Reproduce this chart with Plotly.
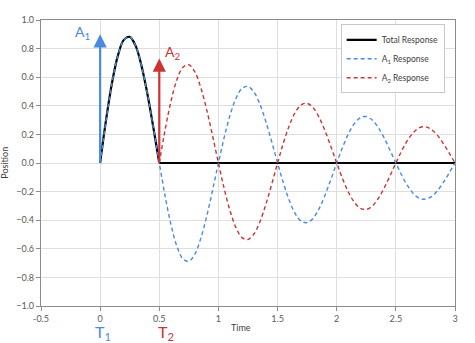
import plotly.graph_objects as go

# Time samples (step 0.05)
time = [round(0.05 * i, 2) for i in range(61)]

# A1 response
a1_resp = [0.000, 0.301, 0.559, 0.751, 0.861, 0.882, 0.819, 0.679, 0.481, 0.247,
           0.000, -0.235, -0.435, -0.585, -0.670, -0.687, -0.638, -0.529, -0.375, -0.192,
           0.000, 0.183, 0.339, 0.455, 0.522, 0.535, 0.496, 0.412, 0.292, 0.150,
           0.000, -0.142, -0.264, -0.355, -0.407, -0.417, -0.387, -0.321, -0.227, -0.117,
           0.000, 0.111, 0.206, 0.276, 0.317, 0.325, 0.301, 0.250, 0.177, 0.091,
           0.000, -0.086, -0.160, -0.215, -0.247, -0.253, -0.235, -0.195, -0.138, -0.071,
           0.000]

# A2 response (starts at t = 0.5)
time2 = time[10:]
a2_resp = [0.000, 0.235, 0.435, 0.585, 0.670, 0.687, 0.638, 0.529, 0.375, 0.192,
           0.000, -0.183, -0.339, -0.455, -0.522, -0.535, -0.496, -0.412, -0.292, -0.150,
           0.000, 0.142, 0.264, 0.355, 0.407, 0.417, 0.387, 0.321, 0.227, 0.117,
           0.000, -0.111, -0.206, -0.276, -0.317, -0.325, -0.301, -0.250, -0.177, -0.091,
           0.000, 0.086, 0.160, 0.215, 0.247, 0.253, 0.235, 0.195, 0.138, 0.071,
           0.000]

# Total response: A1 until t = 0.5, then flat zero
total_t1 = time[:11]
total_y1 = a1_resp[:11]
total_t2 = [0.5, 3.0]
total_y2 = [0.0, 0.0]

# Impulses
impulse_t = [0.0, 0.5]
impulse_a = [0.90, 0.73]
impulse_names = ["A<sub>1</sub>", "A<sub>2</sub>"]
time_names = ["T<sub>1</sub>", "T<sub>2</sub>"]

BLUE = "#4a8ae0"
RED = "#cc3333"
FONT = "Lato"

fig = go.Figure()
fig.add_trace(go.Scatter(x=total_t1, y=total_y1, mode="lines", name="Total Response",
                         legendgroup="tot",
                         line=dict(color="black", width=2.2, shape="spline")))
fig.add_trace(go.Scatter(x=total_t2, y=total_y2, mode="lines", name="Total Response",
                         legendgroup="tot", showlegend=False,
                         line=dict(color="black", width=2.2)))
fig.add_trace(go.Scatter(x=time, y=a1_resp, mode="lines", name="A<sub>1</sub> Response",
                         line=dict(color=BLUE, width=1.4, dash="4px,3px", shape="spline")))
fig.add_trace(go.Scatter(x=time2, y=a2_resp, mode="lines", name="A<sub>2</sub> Response",
                         line=dict(color=RED, width=1.4, dash="4px,3px", shape="spline")))

anns = []
cols = [BLUE, RED]
label_off = [(-0.15, 0.01), (0.11, 0.04)]
t_off = [0.02, 0.055]
for i in range(2):
    anns.append(dict(x=impulse_t[i], y=impulse_a[i], ax=impulse_t[i], ay=0,
                     xref="x", yref="y", axref="x", ayref="y", text="",
                     showarrow=True, arrowhead=2, arrowsize=1.2, arrowwidth=2.2,
                     arrowcolor=cols[i]))
    anns.append(dict(x=impulse_t[i] + label_off[i][0], y=impulse_a[i] + label_off[i][1],
                     xref="x", yref="y", text=impulse_names[i], showarrow=False,
                     font=dict(size=14, color=cols[i], family=FONT)))
    anns.append(dict(x=impulse_t[i] + t_off[i], y=-0.092, xref="x", yref="paper",
                     text=time_names[i], showarrow=False, yanchor="middle", borderpad=0,
                     font=dict(size=16, color=cols[i], family=FONT)))
anns.append(dict(x=1.19, y=-0.102, xref="x", yref="paper", text="Time", showarrow=False,
                 font=dict(size=9, color="#404040", family=FONT)))
anns.append(dict(x=-0.108, y=0.5, xref="paper", yref="paper", text="Position",
                 showarrow=False, textangle=-90,
                 font=dict(size=9, color="#404040", family=FONT)))

fig.update_layout(
    width=475, height=343,
    margin=dict(l=41, r=20, t=20, b=37),
    paper_bgcolor="white", plot_bgcolor="white",
    font=dict(family=FONT, size=9, color="#595959"),
    showlegend=True,
    legend=dict(x=0.975, y=0.985, xanchor="right", yanchor="top",
                bgcolor="white", bordercolor="#c8c8c8", borderwidth=1,
                font=dict(size=8.5, color="#404040", family=FONT),
                tracegroupgap=0, itemwidth=30),
    annotations=anns,
    xaxis=dict(range=[-0.5, 3], tickvals=[-0.5, 0, 0.5, 1, 1.5, 2, 2.5, 3],
               ticktext=["-0.5", "0", "0.5", "1", "1.5", "2", "2.5", "3"],
               showgrid=True, gridcolor="#dedede", gridwidth=1,
               showline=True, linecolor="#8c8c8c", linewidth=1.2, mirror=True,
               ticks="outside", ticklen=4, tickcolor="#8c8c8c",
               zeroline=False, tickfont=dict(size=9, color="#595959")),
    yaxis=dict(range=[-1, 1], dtick=0.2, tickformat=".1f",
               showgrid=True, gridcolor="#dedede", gridwidth=1,
               showline=True, linecolor="#8c8c8c", linewidth=1.2, mirror=True,
               ticks="outside", ticklen=4, tickcolor="#8c8c8c",
               zeroline=False, tickfont=dict(size=9, color="#595959")),
)

fig.write_html("out.html")
